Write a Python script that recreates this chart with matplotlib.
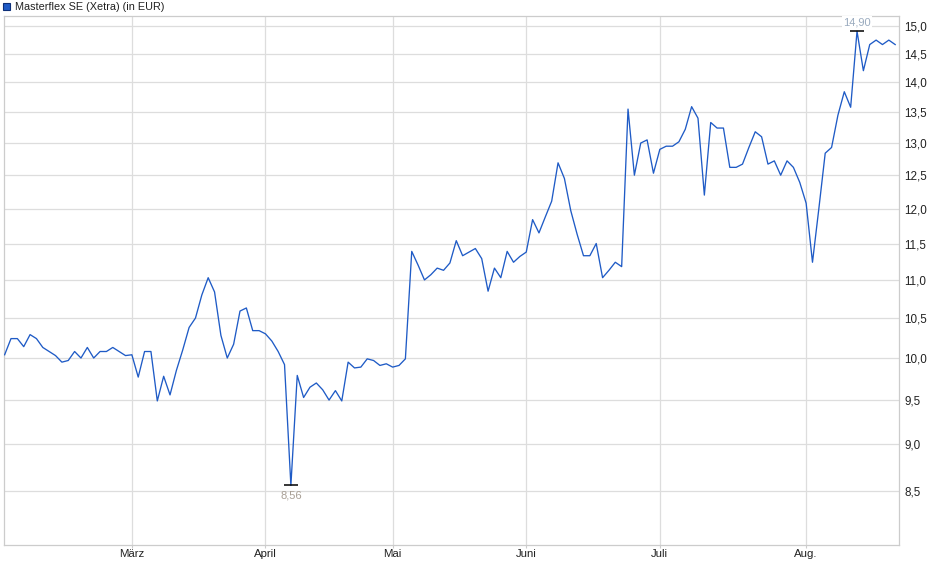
import matplotlib
matplotlib.use("Agg")
import matplotlib.pyplot as plt
from matplotlib.patches import Rectangle
from matplotlib.ticker import FixedLocator, NullLocator
import numpy as np
import pandas as pd

# ---- data -------------------------------------------------------------
title = "Masterflex SE (Xetra) (in EUR)"
start_date = "2025-02-03"
end_date = "2025-08-21"
holidays = ["2025-04-18", "2025-04-21", "2025-05-01"]

prices = [
    10.04, 10.24, 10.24, 10.14, 10.29, 10.24, 10.13, 10.08, 10.03, 9.95,
    9.97, 10.08, 10.00, 10.13, 10.00, 10.08, 10.08, 10.13, 10.08, 10.03,
    10.04, 9.77, 10.08, 10.08, 9.49, 9.78, 9.56, 9.85, 10.10, 10.38,
    10.50, 10.80, 11.03, 10.84, 10.28, 10.00, 10.17, 10.59, 10.63, 10.34,
    10.34, 10.30, 10.21, 10.08, 9.92, 8.56, 9.79, 9.53, 9.65, 9.70,
    9.62, 9.50, 9.61, 9.49, 9.95, 9.88, 9.89, 9.99, 9.97, 9.91,
    9.93, 9.89, 9.91, 9.99, 11.39, 11.20, 11.00, 11.07, 11.16, 11.13,
    11.23, 11.54, 11.33, 11.38, 11.43, 11.29, 10.85, 11.16, 11.03, 11.39,
    11.24, 11.32, 11.38, 11.84, 11.65, 11.88, 12.11, 12.69, 12.45, 11.97,
    11.63, 11.33, 11.33, 11.50, 11.03, 11.13, 11.24, 11.18, 13.55, 12.50,
    13.00, 13.05, 12.53, 12.90, 12.95, 12.95, 13.02, 13.22, 13.59, 13.40,
    12.20, 13.33, 13.24, 13.24, 12.62, 12.62, 12.67, 12.93, 13.18, 13.10,
    12.67, 12.72, 12.50, 12.72, 12.62, 12.39, 12.08, 11.24, 12.00, 12.84,
    12.93, 13.45, 13.84, 13.58, 14.90, 14.20, 14.66, 14.74, 14.66, 14.74,
    14.66,
]

month_numbers = [3, 4, 5, 6, 7, 8]
month_labels = ["März", "April", "Mai", "Juni", "Juli", "Aug."]
y_ticks = [8.5, 9.0, 9.5, 10.0, 10.5, 11.0, 11.5, 12.0, 12.5, 13.0, 13.5, 14.0, 14.5, 15.0]

# ---- derived ------------------------------------------------------------
dates = pd.bdate_range(start_date, end_date)
dates = dates[~dates.isin(pd.to_datetime(holidays))]
n = min(len(dates), len(prices))
x = np.arange(n)
y = np.array(prices[:n])
month_pos = [int(np.argmax(dates.month == m)) for m in month_numbers]

W, H = 940, 579
fig = plt.figure(figsize=(W / 100, H / 100), dpi=100)
L, R, T, B = 4, 899, 16, 545
ax = fig.add_axes([L / W, 1 - B / H, (R - L) / W, (B - T) / H])

line_color = "#1f5bc6"
ax.plot(x, y, color=line_color, lw=0.95, zorder=3)

ax.set_yscale("log")
ax.set_ylim(7.96, 15.18)
ax.set_xlim(-0.1, n - 1 + 0.6)

ax.yaxis.set_major_locator(FixedLocator(y_ticks))
ax.yaxis.set_minor_locator(NullLocator())
ax.set_yticklabels([f"{v:.1f}".replace(".", ",") for v in y_ticks])
ax.yaxis.tick_right()
ax.tick_params(axis="y", length=0, pad=4, labelsize=8.4, colors="#222222")
for lab in ax.get_yticklabels():
    lab.set_family(["Liberation Sans", "DejaVu Sans"])

ax.xaxis.set_major_locator(FixedLocator(month_pos))
ax.xaxis.set_minor_locator(NullLocator())
ax.set_xticklabels(month_labels)
ax.tick_params(axis="x", length=2, color="#cccccc", pad=1, labelsize=8.2, colors="#222222")
for lab in ax.get_xticklabels():
    lab.set_family(["Liberation Sans Narrow", "Liberation Sans", "DejaVu Sans"])

ax.grid(True, color="#dddddd", lw=0.9, zorder=0)
for s in ax.spines.values():
    s.set_color("#cccccc")
    s.set_linewidth(0.9)

# extremes
imax = int(np.argmax(y))
imin = int(np.argmin(y))
ax.plot([imax], [y[imax]], marker="_", ms=10, mew=1.1, color="black", zorder=4)
ax.plot([imin], [y[imin]], marker="_", ms=10, mew=1.1, color="black", zorder=4)
ax.annotate(f"{y[imax]:.2f}".replace(".", ","), (imax, y[imax]), xytext=(0, 3),
            textcoords="offset points", ha="center", va="bottom", fontsize=8,
            color="#9aabbf", family=["Liberation Sans", "DejaVu Sans"],
            bbox=dict(boxstyle="square,pad=0.1", fc="white", ec="none"), zorder=5)
ax.annotate(f"{y[imin]:.2f}".replace(".", ","), (imin, y[imin]), xytext=(0, -3.5),
            textcoords="offset points", ha="center", va="top", fontsize=8,
            color="#a89f95", family=["Liberation Sans", "DejaVu Sans"], zorder=5)

# legend
fig.patches.append(Rectangle((3 / W, 1 - 10 / H), 7 / W, 7 / H, transform=fig.transFigure,
                             fc=line_color, ec="#0d2f78", lw=0.8))
fig.text(15 / W, 1 - 6.5 / H, title, va="center", ha="left", fontsize=7.8,
         color="#222222", family=["Liberation Sans", "DejaVu Sans"])

fig.savefig("out.png", dpi=100)
